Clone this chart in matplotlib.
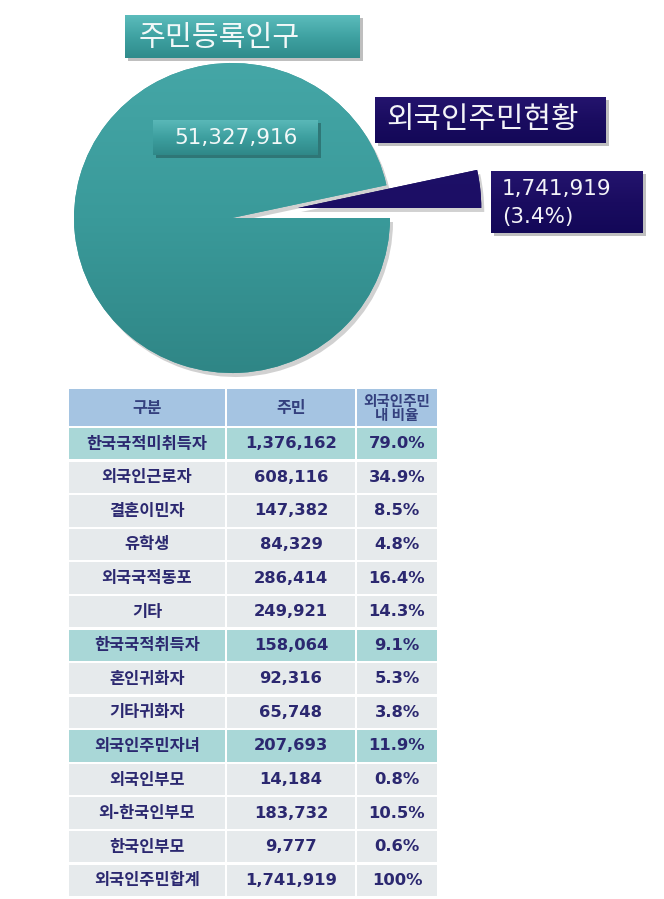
import numpy as np
import matplotlib
matplotlib.use("Agg")
import matplotlib.pyplot as plt
from matplotlib.patches import Rectangle, PathPatch
from matplotlib import transforms

plt.rcParams['font.family'] = ['Noto Sans CJK KR', 'DejaVu Sans']

# ---------------- data ----------------
pie_labels = ["외국인주민현황", "주민등록인구"]
registered_pop = 51327916
foreign_pop = 1741919
foreign_share_text = "(3.4%)"

header = ["구분", "주민", "외국인주민\n내 비율"]
categories = ["한국국적미취득자", "외국인근로자", "결혼이민자", "유학생", "외국국적동포", "기타",
              "한국국적취득자", "혼인귀화자", "기타귀화자",
              "외국인주민자녀", "외국인부모", "외-한국인부모", "한국인부모",
              "외국인주민합계"]
residents = [1376162, 608116, 147382, 84329, 286414, 249921,
             158064, 92316, 65748,
             207693, 14184, 183732, 9777,
             1741919]
shares = [79.0, 34.9, 8.5, 4.8, 16.4, 14.3,
          9.1, 5.3, 3.8,
          11.9, 0.8, 10.5, 0.6,
          100]
group_rows = ["한국국적미취득자", "한국국적취득자", "외국인주민자녀"]

W, H = 664, 899
fig = plt.figure(figsize=(W / 100, H / 100), dpi=100)

# ---------------- pie ----------------
cx, cy, rx, ry = 232, 218, 158, 155
top_px = 385
axp = fig.add_axes([0, 1 - top_px / H, 1, top_px / H])
wedges, _ = axp.pie([foreign_pop, registered_pop - foreign_pop],
                    startangle=0, counterclock=True,
                    explode=[0.42, 0.0],
                    colors=["#170b5c", "#3a9c9c"],
                    wedgeprops=dict(linewidth=0))
wedges[0].set_radius(1.16)
wedges[0].set_center((wedges[0].center[0], wedges[0].center[1] + 0.02))
axp.set_aspect('auto')

grad = np.linspace(0, 1, 256).reshape(-1, 1)
teal_cmap = matplotlib.colors.LinearSegmentedColormap.from_list("t", ["#48aaaa", "#3a9a9a", "#2c8080"])
navy_cmap = matplotlib.colors.LinearSegmentedColormap.from_list("n", ["#231470", "#140858"])
for w, cmap in [(wedges[1], teal_cmap), (wedges[0], navy_cmap)]:
    sh = PathPatch(w.get_path(), transform=w.get_transform() + transforms.Affine2D().translate(3, -4),
                   facecolor="#000000", alpha=0.18, linewidth=0, zorder=0.5)
    axp.add_patch(sh)
    im = axp.imshow(grad, cmap=cmap, extent=(-1.3, 2.0, -1.3, 1.3), origin='upper',
                    aspect='auto', zorder=1)
    im.set_clip_path(w)
    w.set_zorder(0.8)

axp.set_xlim((0 - cx) / rx, (W - cx) / rx)
axp.set_ylim(-(top_px - cy) / ry, cy / ry)
axp.axis('off')

# ---------------- overlay (pixel coords) ----------------
ax = fig.add_axes([0, 0, 1, 1])
ax.patch.set_alpha(0)


def box(x0, y0, x1, y1, cols, zorder=3):
    ax.add_patch(Rectangle((x0 + 3, y0 + 3), x1 - x0, y1 - y0, facecolor="#000000",
                           alpha=0.25, linewidth=0, zorder=zorder - 0.2))
    cm = matplotlib.colors.LinearSegmentedColormap.from_list("b", cols)
    ax.imshow(grad, cmap=cm, extent=(x0, x1, y1, y0), origin='upper', aspect='auto', zorder=zorder)


# title boxes
box(125, 15, 360, 58, ["#5cbcbc", "#3fa2a2", "#2f8b8b"])
ax.text(139, 38, pie_labels[1], fontsize=21, color="#f2f8f8", va='center', ha='left',
        fontweight='light', zorder=5)

box(153, 120, 318, 155, ["#5ab8b8", "#3d9f9f", "#2f8888"])
ax.text(236, 138, f"{registered_pop:,}", fontsize=15.5, color="#f2f8f8", va='center', ha='center',
        family='DejaVu Sans', zorder=5)

box(375, 97, 606, 143, ["#24146e", "#1a0c60", "#130858"])
ax.text(386, 120, pie_labels[0], fontsize=21.5, color="#f4f4f8", va='center', ha='left',
        fontweight='light', zorder=5)

box(491, 171, 643, 233, ["#24146e", "#1a0c60", "#130858"])
ax.text(502, 189, f"{foreign_pop:,}", fontsize=15.5, color="#f4f4f8", va='center', ha='left',
        family='DejaVu Sans', zorder=5)
ax.text(502, 217, foreign_share_text, fontsize=15.5, color="#f4f4f8", va='center', ha='left',
        family='DejaVu Sans', zorder=5)

# ---------------- table ----------------
col_x = [68, 226, 356, 438]
head_top, head_bot = 389, 427
row_top, row_bot = 427, 897
n = len(categories)
rh = (row_bot - row_top) / n
gap = 1.2
text_col = "#2b2870"

for j in range(3):
    ax.add_patch(Rectangle((col_x[j] + gap, head_top), col_x[j + 1] - col_x[j] - 2 * gap,
                           head_bot - head_top - gap, facecolor="#a5c4e2", linewidth=0, zorder=2))
    xc = (col_x[j] + col_x[j + 1]) / 2
    ax.text(xc, (head_top + head_bot) / 2, header[j], ha='center', va='center',
            fontsize=11.5 if j < 2 else 10.5, fontweight='bold', color="#34407e",
            linespacing=0.9, zorder=5)

for i, (cat, val, sh) in enumerate(zip(categories, residents, shares)):
    y0 = row_top + i * rh
    fc = "#a9d7d7" if cat in group_rows else "#e6eaec"
    for j in range(3):
        ax.add_patch(Rectangle((col_x[j] + gap, y0 + gap), col_x[j + 1] - col_x[j] - 2 * gap,
                               rh - 2 * gap, facecolor=fc, linewidth=0, zorder=2))
    yc = y0 + rh / 2
    ax.text((col_x[0] + col_x[1]) / 2, yc, cat, ha='center', va='center', fontsize=11.8,
            fontweight='bold', color=text_col, zorder=5)
    ax.text((col_x[1] + col_x[2]) / 2, yc, f"{val:,}", ha='center', va='center', fontsize=11.8,
            fontweight='bold', color=text_col, family='DejaVu Sans', zorder=5)
    stxt = "100%" if sh == 100 else f"{sh:.1f}%"
    ax.text((col_x[2] + col_x[3]) / 2, yc, stxt, ha='center', va='center', fontsize=11.8,
            fontweight='bold', color=text_col, family='DejaVu Sans', zorder=5)

ax.set_xlim(0, W)
ax.set_ylim(H, 0)
ax.axis('off')

fig.savefig("out.png", dpi=100)
